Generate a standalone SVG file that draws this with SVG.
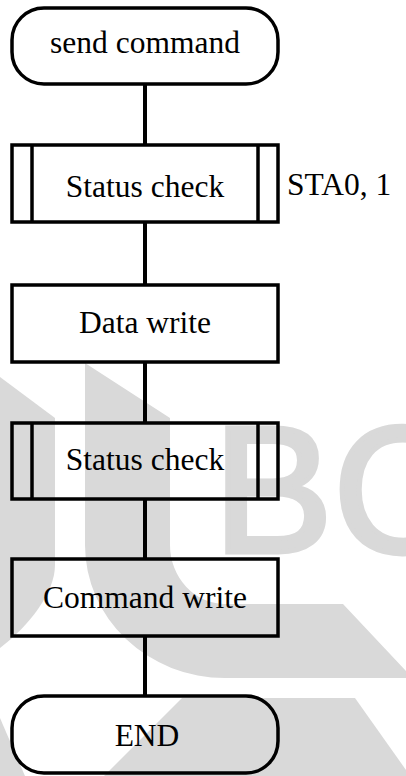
<svg xmlns="http://www.w3.org/2000/svg" width="406" height="776" viewBox="0 0 406 776">
<style>
.wm{fill:#d9d9d9;stroke:none}
.box{fill:none;stroke:#000;stroke-width:3.5}
.conn{stroke:#000;stroke-width:4;fill:none}
.t{font-family:"Liberation Serif","Times New Roman",serif;font-size:31.5px;fill:#000}
.c{text-anchor:middle}
</style>
<rect width="406" height="776" fill="#fff"/>
<g id="watermark">
<path class="wm" d="M0,377 L55,418 L55,565 C55,592 30,625 0,648 Z"/>
<path class="wm" d="M85,363 L170,418 L170,545 A55,59 0 0 0 225,604 L343,604 L406,671 L406,678 L225,678 A140,133 0 0 1 85,545 Z"/>
<path class="wm" d="M182,698 L355,698 L406,770 L406,776 L104,776 Z"/>
<path class="wm" d="M0,718 L25,776 L0,776 Z"/>
<text x="213" y="552" style="font-family:'Liberation Sans',Arial,sans-serif;font-size:180px;fill:#d9d9d9;stroke:#d9d9d9;stroke-width:5">BC</text>
</g>
<g id="connectors">
<line class="conn" x1="145" y1="84" x2="145" y2="145"/>
<line class="conn" x1="145" y1="222" x2="145" y2="285"/>
<line class="conn" x1="145" y1="362" x2="145" y2="423"/>
<line class="conn" x1="145" y1="499" x2="145" y2="559"/>
<line class="conn" x1="145" y1="636" x2="145" y2="696"/>
</g>
<g id="start">
<rect class="box" x="12" y="8" width="266" height="76" rx="32" ry="32" fill="#fff"/>
<text class="t c" x="145" y="53">send command</text>
</g>
<g id="status1">
<rect class="box" x="12" y="145" width="266" height="77"/>
<line class="box" x1="32" y1="145" x2="32" y2="222"/>
<line class="box" x1="258" y1="145" x2="258" y2="222"/>
<text class="t c" x="145" y="197">Status check</text>
</g>
<g id="note">
<text class="t" x="287" y="195">STA0, 1</text>
</g>
<g id="datawrite">
<rect class="box" x="12" y="285" width="266" height="77"/>
<text class="t c" x="145" y="333">Data write</text>
</g>
<g id="status2">
<rect class="box" x="12" y="423" width="266" height="76"/>
<line class="box" x1="32" y1="423" x2="32" y2="499"/>
<line class="box" x1="258" y1="423" x2="258" y2="499"/>
<text class="t c" x="145" y="470">Status check</text>
</g>
<g id="cmdwrite">
<rect class="box" x="12" y="559" width="266" height="77"/>
<text class="t c" x="145" y="608">Command write</text>
</g>
<g id="end">
<rect class="box" x="12" y="696" width="266" height="77" rx="32" ry="32"/>
<text class="t c" x="147" y="746">END</text>
</g>
</svg>
